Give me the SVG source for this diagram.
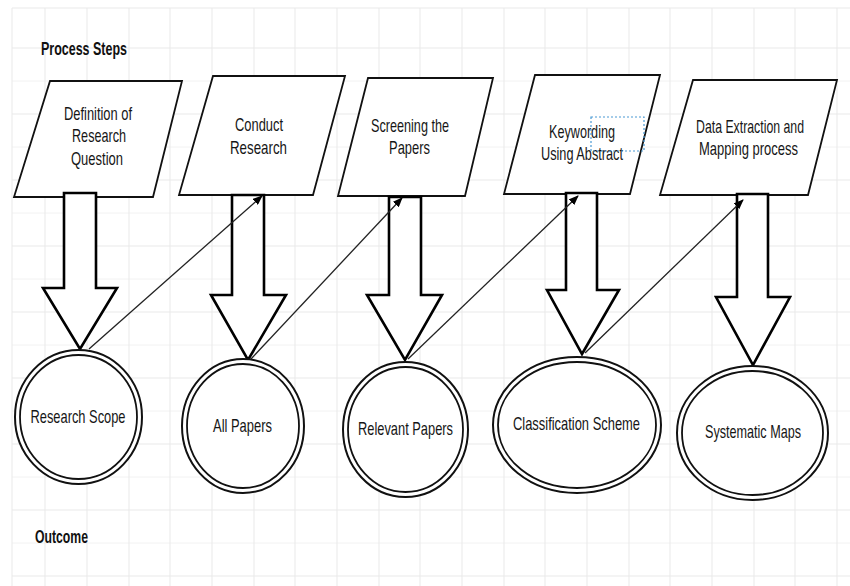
<svg xmlns="http://www.w3.org/2000/svg" width="850" height="586" viewBox="0 0 850 586">
<defs>
<style>
.grid line{stroke:#e9e9e9;stroke-width:1}
.gridm line{stroke:#f2f2f2;stroke-width:1}
.para{fill:#fff;stroke:#111;stroke-width:1.8;stroke-linejoin:miter}
.blk{fill:#fff;stroke:#000;stroke-width:2.6;stroke-linejoin:miter}
.ell{fill:#fff;stroke:#111;stroke-width:2}
.ell2{fill:none;stroke:#111;stroke-width:1.8}
.t{font-family:"Liberation Sans",Arial,sans-serif;font-size:19px;fill:#161616;text-anchor:middle}
.h{font-family:"Liberation Sans",Arial,sans-serif;font-size:18px;font-weight:bold;fill:#111}
.con{stroke:#222;stroke-width:1.3;fill:none}
</style>
<marker id="ah" markerWidth="10" markerHeight="8" refX="9" refY="4" orient="auto" markerUnits="userSpaceOnUse">
<path d="M0,0 L10,4 L0,8 Z" fill="#000"/>
</marker>
</defs>
<rect width="850" height="586" fill="#fff"/>
<g class="gridm">
<line x1="12" y1="81" x2="850" y2="81"/><line x1="12" y1="147" x2="850" y2="147"/><line x1="12" y1="213" x2="850" y2="213"/><line x1="12" y1="279" x2="850" y2="279"/><line x1="12" y1="345" x2="850" y2="345"/><line x1="12" y1="411" x2="850" y2="411"/><line x1="12" y1="477" x2="850" y2="477"/><line x1="12" y1="543" x2="850" y2="543"/>
</g>
<g class="grid">
<line x1="12" y1="8" x2="12" y2="586"/>
<line x1="12" y1="8" x2="850" y2="8"/>
<line x1="12" y1="48" x2="850" y2="48"/><line x1="12" y1="114" x2="850" y2="114"/><line x1="12" y1="180" x2="850" y2="180"/><line x1="12" y1="246" x2="850" y2="246"/><line x1="12" y1="312" x2="850" y2="312"/><line x1="12" y1="378" x2="850" y2="378"/><line x1="12" y1="444" x2="850" y2="444"/><line x1="12" y1="510" x2="850" y2="510"/><line x1="12" y1="576" x2="850" y2="576"/>
<line x1="45" y1="8" x2="45" y2="586"/><line x1="87" y1="8" x2="87" y2="586"/><line x1="129" y1="8" x2="129" y2="586"/><line x1="170" y1="8" x2="170" y2="586"/><line x1="212" y1="8" x2="212" y2="586"/><line x1="254" y1="8" x2="254" y2="586"/><line x1="295" y1="8" x2="295" y2="586"/><line x1="337" y1="8" x2="337" y2="586"/><line x1="379" y1="8" x2="379" y2="586"/><line x1="420" y1="8" x2="420" y2="586"/><line x1="462" y1="8" x2="462" y2="586"/><line x1="504" y1="8" x2="504" y2="586"/><line x1="545" y1="8" x2="545" y2="586"/><line x1="587" y1="8" x2="587" y2="586"/><line x1="629" y1="8" x2="629" y2="586"/><line x1="670" y1="8" x2="670" y2="586"/><line x1="712" y1="8" x2="712" y2="586"/><line x1="754" y1="8" x2="754" y2="586"/><line x1="795" y1="8" x2="795" y2="586"/><line x1="837" y1="8" x2="837" y2="586"/>
</g>

<text class="h" x="41" y="55" textLength="86" lengthAdjust="spacingAndGlyphs">Process Steps</text>
<text class="h" x="35" y="543" textLength="53" lengthAdjust="spacingAndGlyphs">Outcome</text>

<g id="step1">
<polygon class="para" points="50,81 182,81 153,197 14,197"/>
<text class="t" x="98" y="120" textLength="68" lengthAdjust="spacingAndGlyphs">Definition of</text>
<text class="t" x="99" y="142" textLength="54" lengthAdjust="spacingAndGlyphs">Research</text>
<text class="t" x="97" y="165" textLength="52" lengthAdjust="spacingAndGlyphs">Question</text>
</g>
<g id="step2">
<polygon class="para" points="213,76 345,76 313,195 179,195"/>
<text class="t" x="259" y="131" textLength="48" lengthAdjust="spacingAndGlyphs">Conduct</text>
<text class="t" x="258.5" y="154" textLength="57" lengthAdjust="spacingAndGlyphs">Research</text>
</g>
<g id="step3">
<polygon class="para" points="368,78 493,78 465,196 338,196"/>
<text class="t" x="410" y="132" textLength="78" lengthAdjust="spacingAndGlyphs">Screening the</text>
<text class="t" x="409.5" y="154" textLength="41" lengthAdjust="spacingAndGlyphs">Papers</text>
</g>
<g id="step4">
<polygon class="para" points="535,75 660,75 630,194 504,194"/>
<text class="t" x="582" y="138" textLength="66" lengthAdjust="spacingAndGlyphs">Keywording</text>
<text class="t" x="582" y="160" textLength="82" lengthAdjust="spacingAndGlyphs">Using Abstract</text>
<rect x="591" y="117" width="53" height="34" fill="none" stroke="#4a9ad4" stroke-width="1.2" stroke-dasharray="2,2"/>
</g>
<g id="step5">
<polygon class="para" points="693,80 837,80 808,195 660,195"/>
<text class="t" x="750" y="133" textLength="108" lengthAdjust="spacingAndGlyphs">Data Extraction and</text>
<text class="t" x="748.5" y="155" textLength="99" lengthAdjust="spacingAndGlyphs">Mapping process</text>
</g>

<g id="flow-arrows">
<path class="blk" d="M64,193 H96 V288 H117 L80,349 L43,288 H64 Z"/>
<path class="blk" d="M232,195 H264 V295 H286 L248,360 L211,295 H232 Z"/>
<path class="blk" d="M389,197 H421 V295 H442 L405,360 L367,295 H389 Z"/>
<path class="blk" d="M566,193 H597 V290 H619 L582,354 L547,290 H566 Z"/>
<path class="blk" d="M737,194 H768 V297 H790 L753,365 L716,297 H737 Z"/>
</g>

<g id="connectors">
<line class="con" x1="89" y1="349" x2="262" y2="196" marker-end="url(#ah)"/>
<line class="con" x1="251" y1="359" x2="402" y2="198" marker-end="url(#ah)"/>
<line class="con" x1="408" y1="359" x2="578" y2="196" marker-end="url(#ah)"/>
<line class="con" x1="585" y1="353" x2="743" y2="200" marker-end="url(#ah)"/>
</g>

<g id="outcome1">
<ellipse class="ell" cx="78.5" cy="417" rx="63.5" ry="67"/>
<ellipse class="ell2" cx="78.5" cy="417" rx="58.5" ry="62"/>
<text class="t" x="78" y="423" textLength="95" lengthAdjust="spacingAndGlyphs">Research Scope</text>
</g>
<g id="outcome2">
<ellipse class="ell" cx="243" cy="426" rx="61" ry="67"/>
<ellipse class="ell2" cx="243" cy="426" rx="56" ry="62"/>
<text class="t" x="242.5" y="432" textLength="59" lengthAdjust="spacingAndGlyphs">All Papers</text>
</g>
<g id="outcome3">
<ellipse class="ell" cx="405.5" cy="429.5" rx="62.5" ry="67.5"/>
<ellipse class="ell2" cx="405.5" cy="429.5" rx="57.5" ry="62.5"/>
<text class="t" x="405.5" y="435" textLength="95" lengthAdjust="spacingAndGlyphs">Relevant Papers</text>
</g>
<g id="outcome4">
<ellipse class="ell" cx="577" cy="425" rx="84" ry="68"/>
<ellipse class="ell2" cx="577" cy="425" rx="79" ry="63"/>
<text class="t" x="576.5" y="430" textLength="127" lengthAdjust="spacingAndGlyphs">Classification Scheme</text>
</g>
<g id="outcome5">
<ellipse class="ell" cx="752.5" cy="433" rx="75.5" ry="67"/>
<ellipse class="ell2" cx="752.5" cy="433" rx="70.5" ry="62"/>
<text class="t" x="753" y="438" textLength="96" lengthAdjust="spacingAndGlyphs">Systematic Maps</text>
</g>
</svg>
